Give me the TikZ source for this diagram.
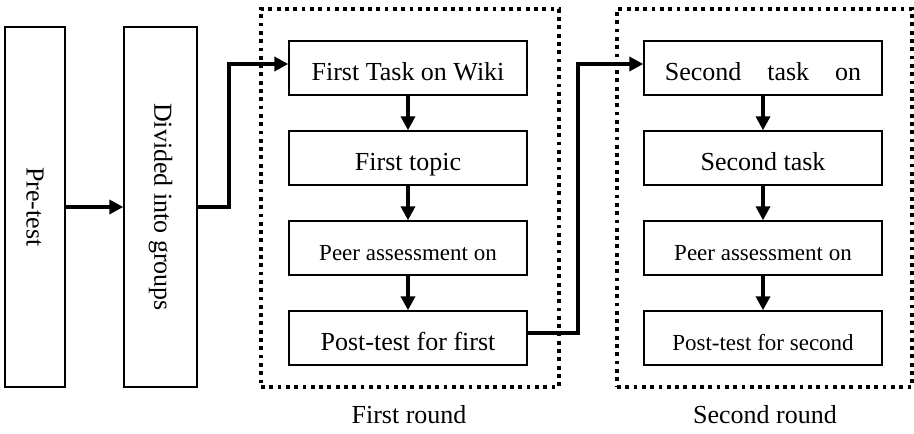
\documentclass[tikz,border=0pt]{standalone}
\usepackage{fontspec}
\setmainfont{Liberation Serif}
\usetikzlibrary{arrows.meta}

\begin{document}
\begin{tikzpicture}[x=1pt,y=1pt,
  box/.style={draw, line width=1.4pt, minimum width=238pt, minimum height=54pt,
    inner sep=0pt, text height=26pt, text depth=0pt,
    font=\fontsize{26}{30}\selectfont},
  smalltext/.style={font=\fontsize{23}{27}\selectfont},
  tallbox/.style={draw, line width=1.4pt, minimum height=360pt, inner sep=0pt,
    font=\fontsize{26}{30}\selectfont},
  frame/.style={draw, line width=3.6pt, dash pattern=on 3.8pt off 4.5pt,
    inner sep=0pt},
  arr/.style={line width=4pt, -{Triangle[length=14pt,width=14pt]}},
  caption/.style={anchor=base, font=\fontsize{26}{30}\selectfont}]

  \fill[white] (0,0) rectangle (914,434);
  \useasboundingbox (0,0) rectangle (914,434);

  % left-hand steps
  \node[tallbox, minimum width=60pt] (pre) at (35,227) {\rotatebox{-90}{Pre-test}};
  \node[tallbox, minimum width=73pt] (div) at (160.5,227) {\rotatebox{-90}{Divided into groups}};

  % round frames
  \node[frame, minimum width=298pt, minimum height=378pt] (f1) at (410,236) {};
  \node[frame, minimum width=295pt, minimum height=378pt] (f2) at (764.5,236) {};
  \node[caption] (c1) at (409,10) {First round};
  \node[caption] (c2) at (765,10) {Second round};

  % first round
  \node[box] (a1) at (408,366) {First Task on Wiki};
  \node[box] (a2) at (408,276) {First topic};
  \node[box, smalltext] (a3) at (408,186) {Peer assessment on};
  \node[box] (a4) at (408,96) {Post-test for first};

  % second round
  \node[box] (b1) at (763,366) {Second\hspace{26pt}task\hspace{26pt}on};
  \node[box] (b2) at (763,276) {Second task};
  \node[box, smalltext] (b3) at (763,186) {Peer assessment on};
  \node[box, smalltext] (b4) at (763,96) {Post-test for second};

  % connectors
  \draw[arr] (pre.east) -- (div.west);
  \draw[arr] (div.east) -- (229,227) |- ([yshift=4pt]a1.west);
  \foreach \u/\v in {a1/a2, a2/a3, a3/a4, b1/b2, b2/b3, b3/b4}
    \draw[arr] (\u.south) -- (\v.north);
  \draw[arr] ([yshift=5pt]a4.east) -- (578,101) |- ([yshift=4pt]b1.west);
\end{tikzpicture}
\end{document}
